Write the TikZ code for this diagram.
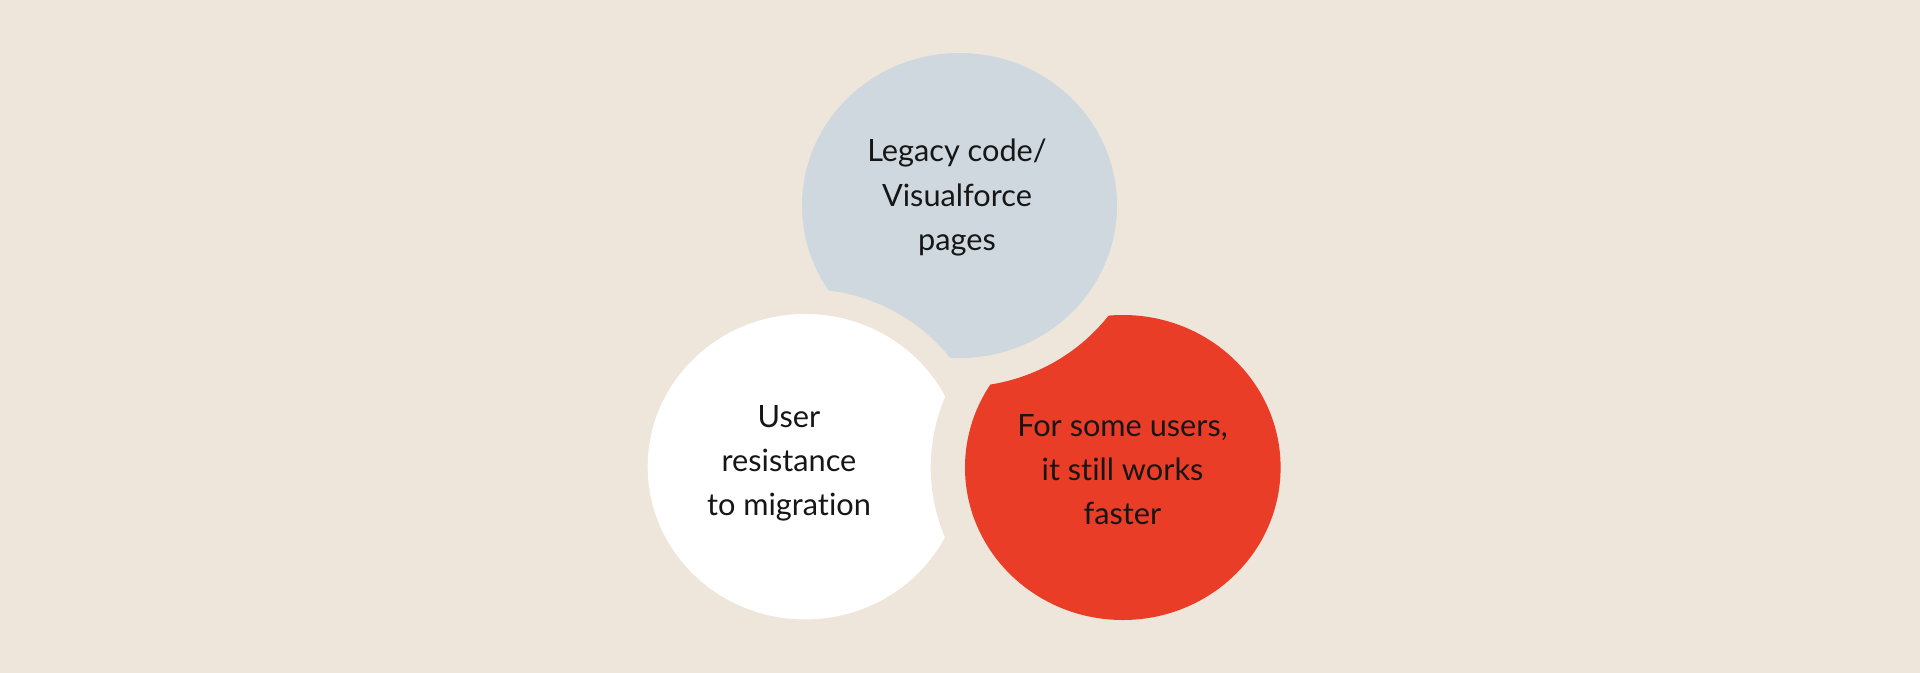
\documentclass[tikz,border=0pt]{standalone}
\usepackage{fontspec}
\setmainfont{Lato}[Ligatures=NoCommon]
\definecolor{bgc}{RGB}{238,230,219}
\definecolor{grayb}{RGB}{207,216,223}
\definecolor{whiteb}{RGB}{255,255,255}
\definecolor{redb}{RGB}{234,61,39}
\definecolor{txt}{RGB}{22,22,22}
\tikzset{
  lbl/.style={align=center, inner sep=0pt, anchor=base, text=txt,
    font=\fontsize{30.7bp}{44bp}\selectfont}
}
\begin{document}
\begin{tikzpicture}[x=1bp,y=-1bp]
\useasboundingbox (0,0) rectangle (1920,673);
\fill[bgc] (0,0) rectangle (1920,673);
% gray bubble, bitten by white
\begin{scope}
  \clip (959.5,205.5) ellipse [x radius=157.5bp, y radius=152.5bp];
  \fill[grayb, even odd rule] (0,0) rectangle (1920,673)
    (805.2,466.7) ellipse [x radius=183.3bp, y radius=177.7bp];
\end{scope}
% white bubble, bitten by red
\begin{scope}
  \clip (805.2,466.7) ellipse [x radius=157.5bp, y radius=152.7bp];
  \fill[whiteb, even odd rule] (0,0) rectangle (1920,673)
    (1122.8,467.5) ellipse [x radius=192.1bp, y radius=185.5bp];
\end{scope}
% red bubble, bitten by gray
\begin{scope}
  \clip (1122.8,467.5) ellipse [x radius=157.8bp, y radius=152.5bp];
  \fill[redb, even odd rule] (0,0) rectangle (1920,673)
    (959.5,205.5) ellipse [x radius=187.5bp, y radius=181.5bp];
\end{scope}
\node[lbl] (legacy) at (957,250) {Legacy code/\\Visualforce\\pages};
\node[lbl] (resist) at (789,515) {User\\resistance\\to migration};
\node[lbl] (faster) at (1122.5,524.3) {For some users,\\it still works\\faster};
\end{tikzpicture}
\end{document}
